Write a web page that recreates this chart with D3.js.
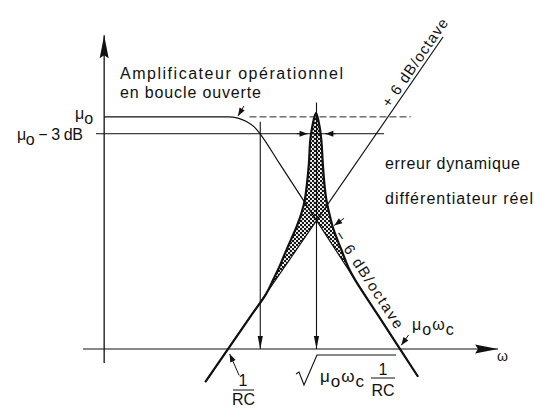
<!DOCTYPE html>
<html>
<head>
<meta charset="utf-8">
<script src="https://cdn.jsdelivr.net/npm/d3@7"></script>
<style>
    body { margin: 0; background: #fff; }
    svg text { font-family: "Liberation Sans", Arial, sans-serif; fill: #111; }
</style>
</head>
<body>
<div class="chart-container"></div>
<script>
// --- Data (x = log10(omega*RC) in decades, y = gain in dB) ---
const MU0 = 74.4;          // open loop gain level
const MU0_3DB = 69;        // "mu0 - 3 dB" level (as drawn)
const X_KNEE = 0.75;       // -3 dB point of open loop curve
const X_CROSS = 2.058;     // sqrt(mu0 wc / RC)
const Y_CROSS = 41.2;

// +6 dB/octave asymptote (ideal differentiator)
const plus6Line = [[-0.53, -10.6], [5.0, 100]];

// open loop amplifier response
const openLoopCurve = [
    [-2.88, 74.4], [0, 74.4], [0.23, 74.0], [0.43, 72.9], [0.61, 71.2],
    [0.75, 68.9], [1.2, 59.4], [4.42, -8.9]
];

// real differentiator response
const realCurve = [
    [-0.53, -10.6], [0.5, 10.0], [0.884, 17.6], [1.047, 22.1], [1.193, 26.3],
    [1.330, 30.8], [1.460, 34.9], [1.593, 39.1], [1.709, 43.6], [1.786, 47.8],
    [1.833, 52.6], [1.879, 59.0], [1.914, 67.0], [1.967, 71.8], [2.047, 75.7],
    [2.123, 71.8], [2.170, 67.0], [2.207, 59.0], [2.244, 52.6], [2.288, 47.8],
    [2.353, 43.6], [2.437, 39.1], [2.547, 34.9], [2.665, 30.8], [2.795, 26.3],
    [2.945, 22.4], [3.5, 10.6], [4.42, -8.9]
];

// axis extents
const xAxisExtent = [-3.37, 6.28];
const yAxisExtent = [-4.5, 100.6];

// leader arrows [tail, head]
const leaders = [
    [[0.372, 77.9], [0.233, 74.7]],   // amplificateur -> knee
    [[2.70, 41.9], [2.47, 39.6]],     // erreur dynamique -> shaded area
    [[4.20, 4.5], [4.03, 1.2]],       // mu0 wc
    [[0.26, -8.5], [0.04, -1.6]]      // 1/RC
];

const labels = {
    ampli1: "Amplificateur opérationnel",
    ampli2: "en boucle ouverte",
    err1: "erreur dynamique",
    err2: "différentiateur réel",
    plus6: "+ 6 dB/octave",
    minus6: "− 6 dB/octave"
};

// --- Scales ---
const W = 544, H = 412;
const x = d3.scaleLinear().domain([-3, 7]).range([99, 529]);
const y = d3.scaleLinear().domain([-20, 110]).range([411.4, 5.8]);

const svg = d3.select(".chart-container").append("svg")
    .attr("width", W).attr("height", H);

const defs = svg.append("defs");

// dotted fill
const pat = defs.append("pattern").attr("id", "dots")
    .attr("patternUnits", "userSpaceOnUse").attr("width", 4).attr("height", 4);
pat.append("rect").attr("width", 4).attr("height", 4).attr("fill", "#fff");
pat.append("circle").attr("cx", 1).attr("cy", 1).attr("r", 1.25).attr("fill", "#111");
pat.append("circle").attr("cx", 3).attr("cy", 3).attr("r", 1.25).attr("fill", "#111");

function marker(id, len, half, notch) {
    defs.append("marker").attr("id", id)
        .attr("markerUnits", "userSpaceOnUse")
        .attr("viewBox", `${-len - 1} ${-half - 1} ${len + 2} ${2 * half + 2}`)
        .attr("markerWidth", len + 2).attr("markerHeight", 2 * half + 2)
        .attr("refX", 0).attr("refY", 0).attr("orient", "auto")
        .append("path")
        .attr("d", `M0,0L${-len},${-half}L${-len + notch},0L${-len},${half}Z`)
        .attr("fill", "#111");
}
marker("axisArrow", 23, 4.5, 3);
marker("vArrow", 13, 2.6, 0);
marker("smallArrow", 8, 3, 0);

const line = d3.line().x(d => x(d[0])).y(d => y(d[1]));
const smooth = d3.line().x(d => x(d[0])).y(d => y(d[1])).curve(d3.curveCatmullRom.alpha(0.5));
const mono = d3.line().x(d => x(d[0])).y(d => y(d[1])).curve(d3.curveMonotoneX);

// --- shaded error area ---
const shadePts = realCurve.filter(d => d[0] >= 0.88 && d[0] <= 2.945);
svg.append("path")
    .attr("d", smooth(shadePts) + `L${x(X_CROSS)},${y(Y_CROSS)}Z`)
    .attr("fill", "url(#dots)")
    .attr("stroke", "none");

// --- axes ---
svg.append("line")
    .attr("x1", x(xAxisExtent[0])).attr("x2", x(xAxisExtent[1]))
    .attr("y1", y(0)).attr("y2", y(0))
    .attr("stroke", "#111").attr("stroke-width", 1.1)
    .attr("marker-end", "url(#axisArrow)");
svg.append("line")
    .attr("x1", x(-2.88)).attr("x2", x(-2.88))
    .attr("y1", y(yAxisExtent[0])).attr("y2", y(yAxisExtent[1]))
    .attr("stroke", "#111").attr("stroke-width", 1.3)
    .attr("marker-end", "url(#axisArrow)");

// reference levels
svg.append("line")
    .attr("x1", x(-3.07)).attr("x2", x(3.63))
    .attr("y1", y(MU0_3DB)).attr("y2", y(MU0_3DB))
    .attr("stroke", "#111").attr("stroke-width", 1);
svg.append("line")
    .attr("x1", x(0.5)).attr("x2", x(4.25))
    .attr("y1", y(MU0)).attr("y2", y(MU0))
    .attr("stroke", "#111").attr("stroke-width", 0.9)
    .attr("stroke-dasharray", "7,3");

// vertical markers down to the omega axis
[[X_KNEE, 72.8], [X_CROSS, 79]].forEach(([vx, top]) => {
    svg.append("line")
        .attr("x1", x(vx)).attr("x2", x(vx))
        .attr("y1", y(top)).attr("y2", y(0))
        .attr("stroke", "#111").attr("stroke-width", 1.1)
        .attr("marker-end", "url(#vArrow)");
});

// -3 dB width arrows
[[1.6, 1.85], [2.5, 2.265]].forEach(([a, b]) => {
    svg.append("line")
        .attr("x1", x(a)).attr("x2", x(b))
        .attr("y1", y(MU0_3DB)).attr("y2", y(MU0_3DB))
        .attr("stroke", "#111").attr("stroke-width", 1)
        .attr("marker-end", "url(#smallArrow)");
});

// +6 asymptote and open loop curve (thin)
svg.append("path").attr("d", line(plus6Line))
    .attr("fill", "none").attr("stroke", "#111").attr("stroke-width", 1.2);
svg.append("path").attr("d", mono(openLoopCurve))
    .attr("fill", "none").attr("stroke", "#111").attr("stroke-width", 1.2);

// real differentiator (thick)
svg.append("path").attr("d", smooth(realCurve))
    .attr("fill", "none").attr("stroke", "#111").attr("stroke-width", 2.2)
    .attr("stroke-linejoin", "round");

// leader arrows
leaders.forEach(([t, h]) => {
    svg.append("line")
        .attr("x1", x(t[0])).attr("y1", y(t[1]))
        .attr("x2", x(h[0])).attr("y2", y(h[1]))
        .attr("stroke", "#111").attr("stroke-width", 1)
        .attr("marker-end", "url(#smallArrow)");
});

// --- text ---
function txt(px, py, s, len, size) {
    const t = svg.append("text").attr("x", px).attr("y", py)
        .style("font-size", (size || 16) + "px").text(s);
    if (len) t.attr("textLength", len).attr("lengthAdjust", "spacing");
    return t;
}
txt(120, 79, labels.ampli1, 223);
txt(120, 98, labels.ampli2, 141);
txt(385, 169, labels.err1, 135);
txt(385, 204, labels.err2, 148);

function subLabel(px, py, parts, size, len) {
    // parts: [text, isSubscript]
    const t = svg.append("text").attr("x", px).attr("y", py).style("font-size", size + "px");
    let low = false;
    parts.forEach(([s, sub]) => {
        const sp = t.append("tspan").text(s);
        if (sub && !low) { sp.attr("dy", 5); low = true; }
        else if (!sub && low) { sp.attr("dy", -5); low = false; }
    });
    if (len) t.attr("textLength", len).attr("lengthAdjust", "spacing");
    return t;
}
subLabel(75, 119, [["μ"], ["o", true]], 16);
subLabel(17, 140, [["μ"], ["o", true], [" − 3 dB"]], 16, 66);
subLabel(412, 330, [["μ"], ["o", true], ["ω"], ["c", true]], 16)
    .style("letter-spacing", "1px");

// omega
txt(497, 361, "ω", null, 14);

// rotated slope labels
function angleOf(p1, p2) {
    return Math.atan2(y(p2[1]) - y(p1[1]), x(p2[0]) - x(p1[0])) * 180 / Math.PI;
}
svg.append("text")
    .attr("transform", `translate(389.6,108.4) rotate(${angleOf(plus6Line[0], plus6Line[1])})`)
    .attr("textLength", 104).attr("lengthAdjust", "spacing")
    .style("font-size", "15px").text(labels.plus6);
svg.append("text")
    .attr("transform", `translate(334,235) rotate(${angleOf([X_CROSS, Y_CROSS], openLoopCurve[7])})`)
    .attr("textLength", 113).attr("lengthAdjust", "spacing")
    .style("font-size", "15px").text(labels.minus6);

// 1/RC fraction
txt(243, 386, "1").attr("text-anchor", "middle");
svg.append("line").attr("x1", 233).attr("x2", 254).attr("y1", 390).attr("y2", 390)
    .attr("stroke", "#111").attr("stroke-width", 1);
txt(243.5, 405, "RC").attr("text-anchor", "middle");

// sqrt(mu0 wc 1/RC)
svg.append("path")
    .attr("d", "M296,374L299,372L304,385L317,355L396,355")
    .attr("fill", "none").attr("stroke", "#111").attr("stroke-width", 1.1);
subLabel(320, 382, [["μ"], ["o", true], ["ω"], ["c", true]], 17)
    .style("letter-spacing", "1px");
txt(383, 375, "1").attr("text-anchor", "middle");
svg.append("line").attr("x1", 371).attr("x2", 395).attr("y1", 378).attr("y2", 378)
    .attr("stroke", "#111").attr("stroke-width", 1);
txt(383, 396, "RC").attr("text-anchor", "middle");
</script>
</body>
</html>
